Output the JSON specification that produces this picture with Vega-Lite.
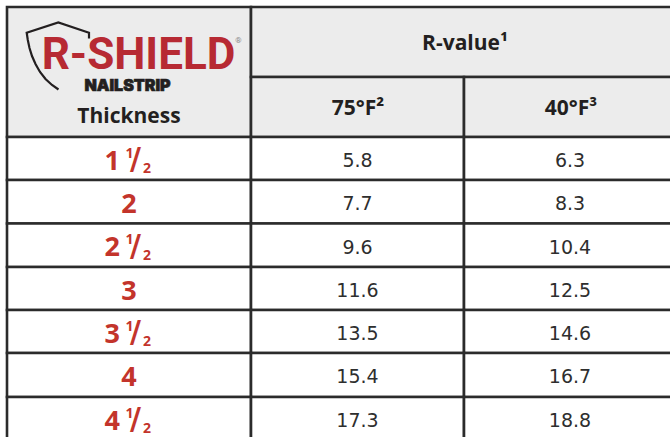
{
  "$schema": "https://vega.github.io/schema/vega-lite/v6.json",
  "width": 670,
  "height": 437,
  "autosize": {"type": "fit", "contains": "padding"},
  "padding": 0,
  "background": "#ffffff",
  "config": {"view": {"stroke": null}},
  "datasets": {
    "cells": [
      {"x1": 7, "x2": 251, "y1": 7, "y2": 137, "part": "head"},
      {"x1": 251, "x2": 676, "y1": 7, "y2": 77, "part": "head"},
      {"x1": 251, "x2": 464, "y1": 77, "y2": 137, "part": "head"},
      {"x1": 464, "x2": 676, "y1": 77, "y2": 137, "part": "head"},
      {"x1": 7, "x2": 251, "y1": 137, "y2": 180, "part": "body"},
      {"x1": 251, "x2": 464, "y1": 137, "y2": 180, "part": "body"},
      {"x1": 464, "x2": 676, "y1": 137, "y2": 180, "part": "body"},
      {"x1": 7, "x2": 251, "y1": 180, "y2": 223.5, "part": "body"},
      {"x1": 251, "x2": 464, "y1": 180, "y2": 223.5, "part": "body"},
      {"x1": 464, "x2": 676, "y1": 180, "y2": 223.5, "part": "body"},
      {"x1": 7, "x2": 251, "y1": 223.5, "y2": 267, "part": "body"},
      {"x1": 251, "x2": 464, "y1": 223.5, "y2": 267, "part": "body"},
      {"x1": 464, "x2": 676, "y1": 223.5, "y2": 267, "part": "body"},
      {"x1": 7, "x2": 251, "y1": 267, "y2": 310, "part": "body"},
      {"x1": 251, "x2": 464, "y1": 267, "y2": 310, "part": "body"},
      {"x1": 464, "x2": 676, "y1": 267, "y2": 310, "part": "body"},
      {"x1": 7, "x2": 251, "y1": 310, "y2": 353, "part": "body"},
      {"x1": 251, "x2": 464, "y1": 310, "y2": 353, "part": "body"},
      {"x1": 464, "x2": 676, "y1": 310, "y2": 353, "part": "body"},
      {"x1": 7, "x2": 251, "y1": 353, "y2": 397, "part": "body"},
      {"x1": 251, "x2": 464, "y1": 353, "y2": 397, "part": "body"},
      {"x1": 464, "x2": 676, "y1": 353, "y2": 397, "part": "body"},
      {"x1": 7, "x2": 251, "y1": 397, "y2": 441, "part": "body"},
      {"x1": 251, "x2": 464, "y1": 397, "y2": 441, "part": "body"},
      {"x1": 464, "x2": 676, "y1": 397, "y2": 441, "part": "body"}
    ],
    "rows": [
      {"whole": "1", "half": true, "y1": 137, "v75": 5.8, "v40": 6.3},
      {"whole": "2", "half": false, "y1": 180, "v75": 7.7, "v40": 8.3},
      {"whole": "2", "half": true, "y1": 223.5, "v75": 9.6, "v40": 10.4},
      {"whole": "3", "half": false, "y1": 267, "v75": 11.6, "v40": 12.5},
      {"whole": "3", "half": true, "y1": 310, "v75": 13.5, "v40": 14.6},
      {"whole": "4", "half": false, "y1": 353, "v75": 15.4, "v40": 16.7},
      {"whole": "4", "half": true, "y1": 397, "v75": 17.3, "v40": 18.8}
    ],
    "heads": [
      {"label": "Thickness", "x": 129, "y": 122.7},
      {"label": "R-value¹", "x": 465, "y": 50},
      {"label": "75°F²", "x": 358, "y": 115},
      {"label": "40°F³", "x": 571, "y": 115}
    ],
    "shield": [
      {"o": 0, "px": 89, "py": 38.5},
      {"o": 1, "px": 89, "py": 32.7},
      {"o": 2, "px": 58.3, "py": 22.5},
      {"o": 3, "px": 26.7, "py": 32.7},
      {"o": 4, "px": 27.8, "py": 40},
      {"o": 5, "px": 29.5, "py": 48},
      {"o": 6, "px": 32, "py": 56},
      {"o": 7, "px": 35.5, "py": 64},
      {"o": 8, "px": 40, "py": 72},
      {"o": 9, "px": 45.5, "py": 79},
      {"o": 10, "px": 52, "py": 85},
      {"o": 11, "px": 58.5, "py": 89.5}
    ],
    "logo": [
      {"label": "R-SHIELD", "x": 138.5, "y": 69.3, "kind": "brand"},
      {"label": "®", "x": 238.5, "y": 43, "kind": "reg"},
      {"label": "NAILSTRIP", "x": 127.5, "y": 91, "kind": "sub"}
    ]
  },
  "layer": [
    {
      "data": {"name": "cells"},
      "mark": {"type": "rect", "stroke": "#2b2b2b", "strokeWidth": 2.6, "clip": true},
      "encoding": {
        "x": {"field": "x1", "type": "quantitative", "axis": null, "scale": {"domain": [0, 670], "nice": false, "zero": false}},
        "x2": {"field": "x2"},
        "y": {"field": "y1", "type": "quantitative", "axis": null, "scale": {"domain": [0, 437], "reverse": true, "nice": false, "zero": false}},
        "y2": {"field": "y2"},
        "fill": {"field": "part", "type": "nominal", "legend": null, "scale": {"domain": ["head", "body"], "range": ["#ececec", "#ffffff"]}}
      }
    },
    {
      "data": {"name": "shield"},
      "mark": {"type": "line", "stroke": "#231f20", "strokeWidth": 2.2, "strokeJoin": "miter"},
      "encoding": {
        "x": {"field": "px", "type": "quantitative"},
        "y": {"field": "py", "type": "quantitative"},
        "order": {"field": "o", "type": "quantitative"}
      }
    },
    {
      "data": {"name": "logo"},
      "transform": [{"filter": "datum.kind == 'brand'"}],
      "mark": {"type": "text", "font": "Roboto", "fontWeight": "bold", "fontSize": 44, "align": "center", "baseline": "alphabetic", "color": "#b72a33"},
      "encoding": {
        "x": {"field": "x", "type": "quantitative"},
        "y": {"field": "y", "type": "quantitative"},
        "text": {"field": "label"}
      }
    },
    {
      "data": {"name": "logo"},
      "transform": [{"filter": "datum.kind == 'reg'"}],
      "mark": {"type": "text", "font": "Roboto", "fontSize": 8, "align": "center", "baseline": "alphabetic", "color": "#8a8a8a"},
      "encoding": {
        "x": {"field": "x", "type": "quantitative"},
        "y": {"field": "y", "type": "quantitative"},
        "text": {"field": "label"}
      }
    },
    {
      "data": {"name": "logo"},
      "transform": [{"filter": "datum.kind == 'sub'"}],
      "mark": {"type": "text", "font": "Inter", "fontWeight": 900, "fontSize": 16, "align": "center", "baseline": "alphabetic", "color": "#231f20", "stroke": "#231f20", "strokeWidth": 0.7},
      "encoding": {
        "x": {"field": "x", "type": "quantitative"},
        "y": {"field": "y", "type": "quantitative"},
        "text": {"field": "label"}
      }
    },
    {
      "data": {"name": "heads"},
      "mark": {"type": "text", "font": "Open Sans", "fontWeight": "bold", "fontSize": 21, "align": "center", "baseline": "alphabetic", "color": "#231f20"},
      "encoding": {
        "x": {"field": "x", "type": "quantitative"},
        "y": {"field": "y", "type": "quantitative"},
        "text": {"field": "label"}
      }
    },
    {
      "data": {"name": "rows"},
      "mark": {"type": "text", "font": "DejaVu Sans", "fontSize": 19, "align": "center", "baseline": "alphabetic", "dy": 30.3, "color": "#2e2e2e"},
      "encoding": {
        "x": {"datum": 357.5, "type": "quantitative"},
        "y": {"field": "y1", "type": "quantitative"},
        "text": {"field": "v75", "format": ".1f"}
      }
    },
    {
      "data": {"name": "rows"},
      "mark": {"type": "text", "font": "DejaVu Sans", "fontSize": 19, "align": "center", "baseline": "alphabetic", "dy": 30.3, "color": "#2e2e2e"},
      "encoding": {
        "x": {"datum": 570, "type": "quantitative"},
        "y": {"field": "y1", "type": "quantitative"},
        "text": {"field": "v40", "format": ".1f"}
      }
    },
    {
      "data": {"name": "rows"},
      "transform": [{"filter": "!datum.half"}],
      "mark": {"type": "text", "font": "Open Sans", "fontWeight": "bold", "fontSize": 27, "align": "center", "baseline": "alphabetic", "dy": 32.5, "color": "#c3342b"},
      "encoding": {
        "x": {"datum": 129, "type": "quantitative"},
        "y": {"field": "y1", "type": "quantitative"},
        "text": {"field": "whole"}
      }
    },
    {
      "data": {"name": "rows"},
      "transform": [{"filter": "datum.half"}],
      "mark": {"type": "text", "font": "Open Sans", "fontWeight": "bold", "fontSize": 27, "align": "right", "baseline": "alphabetic", "dx": -9, "dy": 32.5, "color": "#c3342b"},
      "encoding": {
        "x": {"datum": 129, "type": "quantitative"},
        "y": {"field": "y1", "type": "quantitative"},
        "text": {"field": "whole"}
      }
    },
    {
      "data": {"name": "rows"},
      "transform": [{"filter": "datum.half"}],
      "mark": {"type": "text", "text": "1", "font": "Open Sans", "fontWeight": "bold", "fontSize": 14, "align": "left", "baseline": "alphabetic", "dx": -3.5, "dy": 20.5, "color": "#c3342b"},
      "encoding": {
        "x": {"datum": 129, "type": "quantitative"},
        "y": {"field": "y1", "type": "quantitative"}
      }
    },
    {
      "data": {"name": "rows"},
      "transform": [{"filter": "datum.half"}],
      "mark": {"type": "text", "text": "/", "font": "DejaVu Sans", "fontWeight": "bold", "fontSize": 30, "align": "left", "baseline": "alphabetic", "dx": 1, "dy": 32, "color": "#c3342b"},
      "encoding": {
        "x": {"datum": 129, "type": "quantitative"},
        "y": {"field": "y1", "type": "quantitative"}
      }
    },
    {
      "data": {"name": "rows"},
      "transform": [{"filter": "datum.half"}],
      "mark": {"type": "text", "text": "2", "font": "Open Sans", "fontWeight": "bold", "fontSize": 14, "align": "left", "baseline": "alphabetic", "dx": 14, "dy": 36, "color": "#c3342b"},
      "encoding": {
        "x": {"datum": 129, "type": "quantitative"},
        "y": {"field": "y1", "type": "quantitative"}
      }
    }
  ]
}
